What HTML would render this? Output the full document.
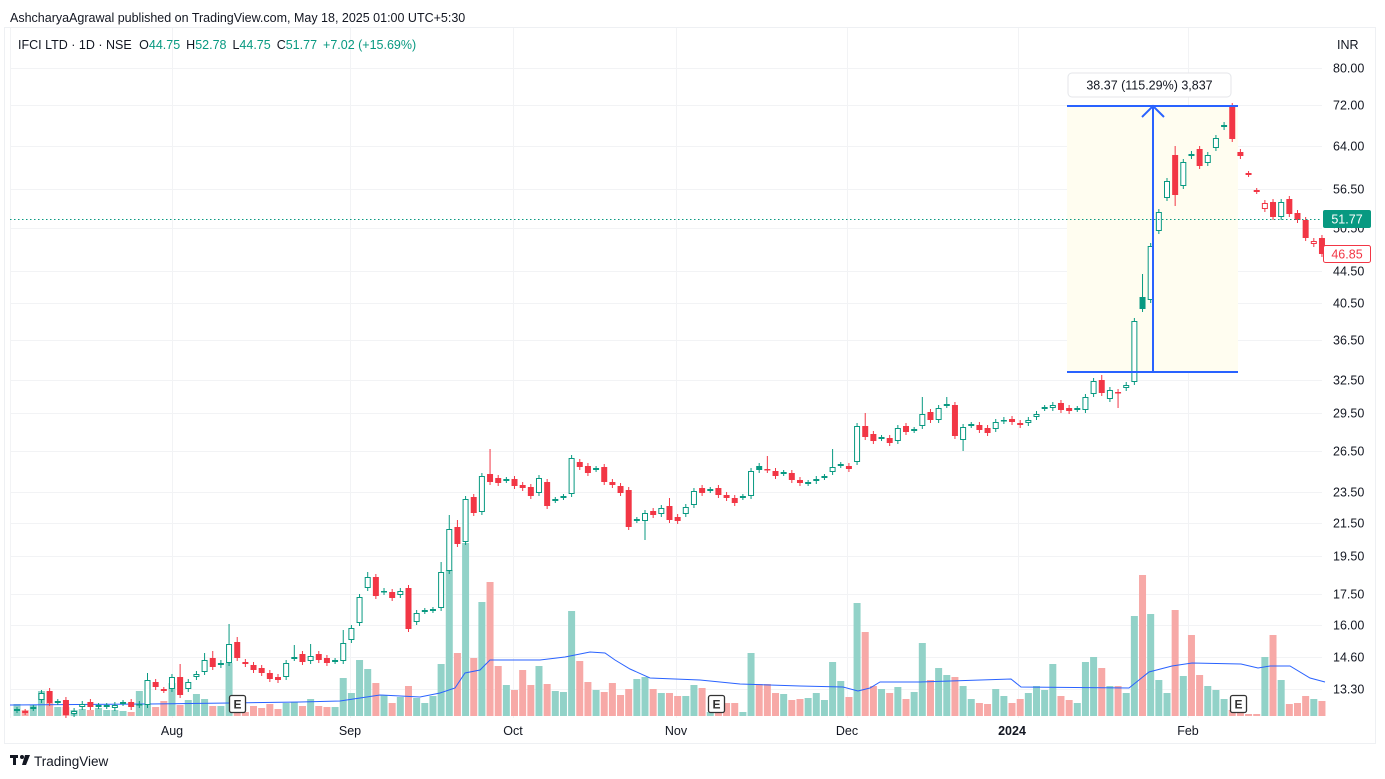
<!DOCTYPE html>
<html><head><meta charset="utf-8"><style>
html,body{margin:0;padding:0;background:#fff;width:1385px;height:779px;overflow:hidden;font-family:"Liberation Sans",sans-serif}
</style></head><body>
<svg id="s" width="1385" height="779" xmlns="http://www.w3.org/2000/svg" font-family="Liberation Sans, sans-serif">
<rect x="4.5" y="27.5" width="1371" height="716" fill="#fff" stroke="#eef0f3"/>
<g id="grid" stroke="#f2f3f5" stroke-width="1"></g>
<rect x="1067" y="106" width="171" height="266" fill="#fffdf0"/>
<g id="vol"></g>
<polyline id="ma" fill="none" stroke="#2962ff" stroke-width="1"/>
<g id="cnd"></g>
<line x1="10" y1="219.5" x2="1322" y2="219.5" stroke="#089981" stroke-dasharray="1.5,2.5" stroke-width="1"/>
<g stroke="#2962ff" stroke-width="2" fill="none">
<line x1="1067" y1="106" x2="1238" y2="106"/>
<line x1="1067" y1="372" x2="1238" y2="372"/>
<line x1="1153" y1="107" x2="1153" y2="372"/>
<polyline points="1142,117 1153,106 1164,117"/>
</g>
<rect x="1068" y="73" width="163" height="24" rx="4" fill="#fff" stroke="#e4e6ea"/>
<text x="1149.5" y="89.5" font-size="12.5" text-anchor="middle" fill="#131722">38.37 (115.29%) 3,837</text>
<g id="ax" font-size="12.5" fill="#131722"></g>
<rect x="1323" y="210" width="48" height="18" rx="2" fill="#089981"/>
<text x="1347" y="223.5" font-size="12.5" fill="#fff" text-anchor="middle">51.77</text>
<rect x="1323.5" y="245.5" width="47" height="17" rx="2" fill="#fff" stroke="#f23645"/>
<text x="1347" y="258.5" font-size="12.5" fill="#f23645" text-anchor="middle">46.85</text>
<g font-size="12.5" fill="#131722" text-anchor="middle">
<text x="172" y="735">Aug</text><text x="350" y="735">Sep</text><text x="513" y="735">Oct</text>
<text x="676" y="735">Nov</text><text x="847" y="735">Dec</text>
<text x="1012" y="735" font-weight="bold">2024</text><text x="1188" y="735">Feb</text>
</g>
<g id="em"></g>
<text x="10" y="22" font-size="12.5" fill="#131722">AshcharyaAgrawal published on TradingView.com, May 18, 2025 01:00 UTC+5:30</text>
<text x="18" y="49" font-size="12.5" fill="#131722">IFCI LTD · 1D · NSE <tspan dx="4">O</tspan><tspan fill="#089981">44.75</tspan><tspan dx="6">H</tspan><tspan fill="#089981">52.78</tspan><tspan dx="6">L</tspan><tspan fill="#089981">44.75</tspan><tspan dx="6">C</tspan><tspan fill="#089981">51.77</tspan><tspan dx="6" fill="#089981">+7.02 (+15.69%)</tspan></text>
<text x="1337" y="49" font-size="12.5" fill="#131722">INR</text>
<g transform="translate(10,753)"><rect x="0" y="2" width="8" height="3" fill="#131722"/><rect x="3" y="2" width="3" height="10" fill="#131722"/><circle cx="12" cy="4" r="2" fill="#131722"/><path d="M15 2 L20 2 L16 12 L12 12 Z" fill="#131722"/></g>
<text x="34" y="766" font-size="13.5" fill="#131722">TradingView</text>
</svg>
<script>
var NS="http://www.w3.org/2000/svg";
function el(p,t,a){var e=document.createElementNS(NS,t);for(var k in a)e.setAttribute(k,a[k]);p.appendChild(e);return e;}
var grid=document.getElementById('grid'),ax=document.getElementById('ax');
var labs=[["80.00",68],["72.00",105],["64.00",146],["56.50",189],["50.50",228],["44.50",271],["40.50",303],["36.50",340],["32.50",380],["29.50",413],["26.50",451],["23.50",492],["21.50",523],["19.50",556],["17.50",594],["16.00",625],["14.60",657],["13.30",689]];
labs.forEach(function(l){el(grid,'line',{x1:10,x2:1322,y1:l[1]+.5,y2:l[1]+.5});var t=el(ax,'text',{x:1333,y:l[1]+4.5});t.textContent=l[0];});
[10,172,350,513,676,847,1018,1188].forEach(function(x){el(grid,'line',{x1:x+.5,x2:x+.5,y1:28,y2:718});});
var C=[[710,710],[712,712],[708,708],[700,693],[691,703],[702,702],[700,715],[714,711],[707,704],[702,707],[706,706],[706,706],[708,705],[703,703],[702,707],[705,704],[705,680,673],[682,687],[690,690],[689,677],[677,695,664],[689,682],[677,674],[672,660,653],[658,667,651],[665,663],[663,644,624],[642,658,637],[662,664],[665,670],[668,673],[673,679],[677,680],[677,663],[658,658,645],[654,662],[661,656,644],[654,660],[658,663],[661,661],[661,643,630],[640,628],[623,597],[588,577,572],[577,596],[592,591],[592,598],[595,591],[588,629],[622,613],[611,611],[610,610],[608,572,562],[571,529,515],[527,544,520],
[542,499],[497,513],[512,476],[474,482,449],[478,483],[480,480],[479,486],[485,488],[487,496],[493,478],[482,506],[500,500],[497,497],[494,458],[462,467],[466,473],[469,469],[467,482],[482,485],[486,493],[490,527],[520,520],[521,513,null,540],[511,515],[514,508],[506,520,498],[517,521],[514,507],[505,491],[488,493],[490,490],[488,495],[495,498],[498,503],[497,497],[496,471],[470,466,null,null,1],[469,470,456],[471,476],[473,473],[473,480],[480,483],[483,483],[481,479],[477,477],[472,467,449],[465,465],[466,469],[462,426],[426,437,413],[434,441],[438,438],[438,443],[441,428],
[426,432],[430,430],[426,414,397],[412,420],[420,408],[405,405,397],[405,436],[440,427,null,451],[425,425],[425,430],[428,433],[429,422],[421,420],[419,422],[423,425],[423,420],[417,414],[408,408],[408,405],[403,410],[408,411],[409,409],[410,397],[394,381],[380,393,375],[399,390],[392,393,null,408],[388,385],[382,321],[309,297,274,null,1],[300,246],[231,212],[198,181],[155,195,146,206],[186,162],[156,154,null,null,1],[149,166],[163,155],[148,138],[127,125],[106,139],[152,156],[174,174],[191,191],[209,203,null,null,2],[202,217],[217,202],[199,214],[213,220],[220,238],[244,241,null,null,2],[238,254]];
var V=[704,710,705,691,703,707,707,710,709,710,708,710,710,711,712,691,705,707,701,683,705,700,694,699,706,706,663,712,712,706,708,704,709,703,702,706,699,706,707,707,678,693,660,669,683,695,703,697,686,698,703,696,664,570,653,543,658,602,582,666,685,690,670,685,666,684,691,692,611,661,682,690,692,683,695,689,679,677,689,693,693,696,696,685,688,712,712,703,703,712,653,684,684,693,694,700,699,698,693,700,662,681,697,603,632,686,689,693,687,699,692,643,680,668,675,677,686,699,703,704,689,696,703,699,693,686,690,664,696,700,703,662,657,668,686,686,693,616,575,614,680,693,610,676,635,675,686,690,699,710,712,714,714,657,635,680,704,703,696,699,701];
var cg=document.getElementById('cnd'),vg=document.getElementById('vol');
var G="#089981",R="#f23645";
var prev=null;
C.forEach(function(c,i){
 var x=17+8.156*i,o=c[0],cl=c[1];
 var top=Math.min(o,cl),bot=Math.max(o,cl);
 var hi=c[2]!=null?c[2]:top-3,lo=c[3]!=null?c[3]:bot+3;
 var up=cl<o, flat=Math.abs(o-cl)<1, type=c[4]||0;
 var col;
 if(flat) col=(prev!=null&&cl>prev+1)?R:G;
 else col=up?G:R;
 if(type==2)col=R; if(type==1)col=G;
 var vcolUp = flat? (col==G) : (type==1? false : (type==2? true : up));
 var v=V[i]; if(v!=null){var vc=vcolUp?"#92d2c8":"#f7a9a7";el(vg,'rect',{x:x-3.5,y:v,width:7,height:Math.max(716-v,1),fill:vc});}
 el(cg,'line',{x1:x,x2:x,y1:hi,y2:lo,stroke:col,'stroke-width':1});
 var h=Math.max(bot-top,1.5);
 if(flat){el(cg,'rect',{x:x-3,y:top-1,width:6,height:2,fill:col});}
 else if((up&&type!=1)||type==2){el(cg,'rect',{x:x-2.5,y:top+.5,width:5,height:h-1,fill:'#fff',stroke:col,'stroke-width':1});}
 else el(cg,'rect',{x:x-3,y:top,width:6,height:h,fill:col});
 prev=cl;
});
var ma=[[10,705],[150,704],[230,703],[300,702],[340,701],[360,698],[380,695],[420,697],[440,693],[455,688],[465,673],[480,670],[490,660],[500,660],[540,660],[565,657],[590,652],[605,653],[615,660],[630,669],[650,678],[700,680],[740,684],[800,686],[843,687],[858,691],[870,688],[880,682],[920,682],[1011,679],[1021,687],[1129,688],[1149,672],[1172,666],[1192,663],[1241,664],[1258,668],[1270,666],[1290,666],[1310,678],[1325,682]];
document.getElementById('ma').setAttribute('points',ma.map(function(p){return p.join(',')}).join(' '));
var em=document.getElementById('em');
[229,708,1230].forEach(function(x){el(em,'rect',{x:x+.5,y:695.5,width:16,height:17,rx:2,fill:'#fff',stroke:'#333','stroke-width':1.3});var t=el(em,'text',{x:x+8.5,y:708.5,'font-size':12,'font-weight':'bold','text-anchor':'middle',fill:'#333'});t.textContent='E';});
</script>
</body></html>
